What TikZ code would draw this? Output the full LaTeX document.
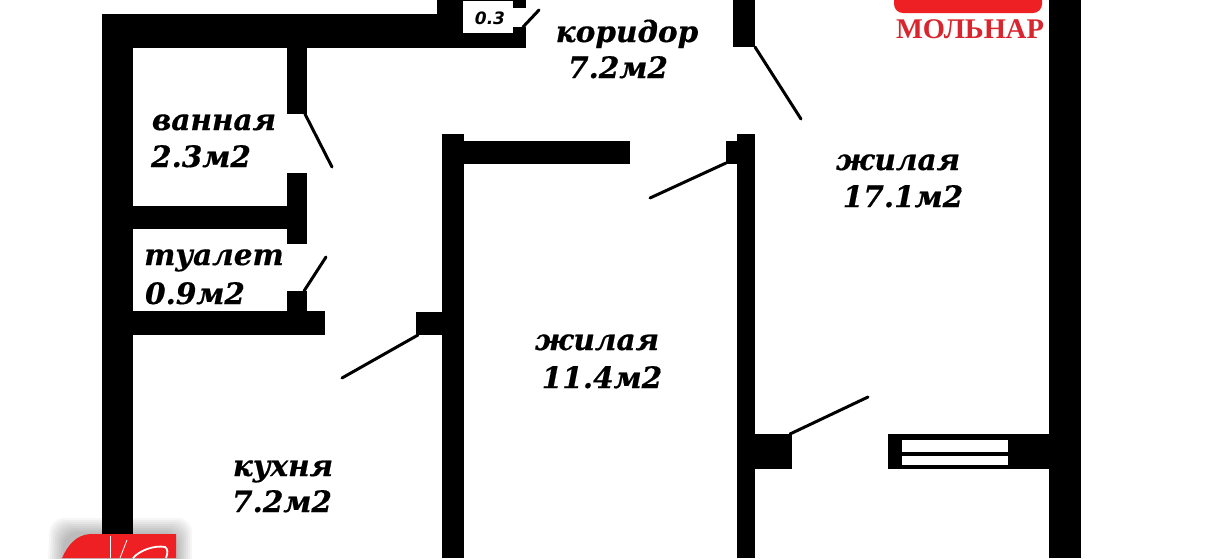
\documentclass[tikz,border=0pt]{standalone}
\usepackage{fontspec}
\setmainfont{DejaVu Serif}[BoldItalicFeatures={FakeBold=0.5}]
\newfontfamily\nichefont{DejaVu Sans}
\newfontfamily\logofont{Liberation Serif}
\definecolor{logored}{HTML}{EE2024}
\definecolor{logotext}{HTML}{D9262E}
\tikzset{
  wall/.style={fill=black,draw=none},
  doorleaf/.style={draw=black,line width=3pt,line cap=round},
  roomlabel/.style={font=\fontsize{29.5}{34}\selectfont\bfseries\itshape,anchor=base,inner sep=0pt},
  win/.style={fill=white,draw=none},
}
\begin{document}
\begin{tikzpicture}[x=1pt,y=-1pt]
\useasboundingbox (0,0) rectangle (1206,558);
\fill[white] (0,0) rectangle (1206,558);
% logo bottom left: soft shadow
\foreach \d in {16,14,12,10,8,6,4,2}{
  \fill[black,opacity=0.035,rounded corners=14pt] (62-\d,600) -- (66-\d,534-\d) -- (176+\d,534-\d) -- (176+\d,600) -- cycle;
}
% walls
\fill[wall] (102,14) rectangle (133,534);
\fill[wall] (102,14) rectangle (526,48);
\fill[wall] (437,0) rectangle (526,14);
\fill[wall] (287,48) rectangle (307,114);
\fill[wall] (287,173) rectangle (307,244);
\fill[wall] (133,206) rectangle (287,229);
\fill[wall] (287,291) rectangle (307,311);
\fill[wall] (133,311) rectangle (325,335);
\fill[wall] (442,134) rectangle (464,558);
\fill[wall] (464,141) rectangle (630,164);
\fill[wall] (416,312) rectangle (442,335);
\fill[wall] (733,0) rectangle (755,47);
\fill[wall] (737,134) rectangle (755,558);
\fill[wall] (726,141) rectangle (737,164);
\fill[wall] (755,434) rectangle (792,469);
\fill[wall] (888,434) rectangle (1049,469);
\fill[wall] (1049,0) rectangle (1081,558);
% niche
\fill[win] (463,1) rectangle (513,33);
\fill[win] (513,8) rectangle (526,27);
\node[font=\fontsize{17}{19}\selectfont\nichefont\bfseries\itshape,inner sep=0pt] (niche) at (490,18) {0.3};
% window
\fill[win] (902,440) rectangle (1008,452);
\fill[win] (902,456) rectangle (1008,465);
% doors
\coordinate (d1a) at (523,27); \coordinate (d1b) at (539,10);
\draw[doorleaf] (d1a) -- (d1b);
\coordinate (d2a) at (755,47); \coordinate (d2b) at (801,119);
\draw[doorleaf] (d2a) -- (d2b);
\coordinate (d3a) at (305,114); \coordinate (d3b) at (332,167);
\draw[doorleaf] (d3a) -- (d3b);
\coordinate (d4a) at (304,291); \coordinate (d4b) at (326,257);
\draw[doorleaf] (d4a) -- (d4b);
\coordinate (d5a) at (726,163); \coordinate (d5b) at (650,198);
\draw[doorleaf] (d5a) -- (d5b);
\coordinate (d6a) at (418,335); \coordinate (d6b) at (342,378);
\draw[doorleaf] (d6a) -- (d6b);
\coordinate (d7a) at (790,434); \coordinate (d7b) at (868,397);
\draw[doorleaf] (d7a) -- (d7b);
% labels
\node[roomlabel] (kor) at (627,42) {коридор};
\node[roomlabel] (korv) at (618,78) {7.2м2};
\node[roomlabel] (van) at (214,130) {ванная};
\node[roomlabel] (vanv) at (201,167) {2.3м2};
\node[roomlabel] (tua) at (214,265) {туалет};
\node[roomlabel] (tuav) at (195,304) {0.9м2};
\node[roomlabel] (zh1) at (898,170) {жилая};
\node[roomlabel] (zh1v) at (903,207) {17.1м2};
\node[roomlabel] (zh2) at (597,350) {жилая};
\node[roomlabel] (zh2v) at (602,388) {11.4м2};
\node[roomlabel] (kuh) at (283,476) {кухня};
\node[roomlabel] (kuhv) at (282,512) {7.2м2};
% logo top right
\fill[logored,rounded corners=9pt] (894,-20) rectangle (1042,13);
\node[font=\fontsize{28.5}{32}\selectfont\logofont\bfseries,text=logotext,inner sep=0pt,anchor=base] (mol) at (970,38) {МОЛЬНАР};
% logo bottom left
\fill[logored] (62,558) .. controls (68,545) and (76,535) .. (90,534) -- (176,534) -- (176,558) -- cycle;
\draw[white,line width=0.8pt] (110,536) -- (110,558);
\draw[white,line width=0.8pt] (127,540) -- (120,558);
\draw[white,line width=1.8pt] (133,558) .. controls (140,550) and (155,545) .. (165,547) .. controls (168,549) and (168,553) .. (166,558);
\end{tikzpicture}
\end{document}
